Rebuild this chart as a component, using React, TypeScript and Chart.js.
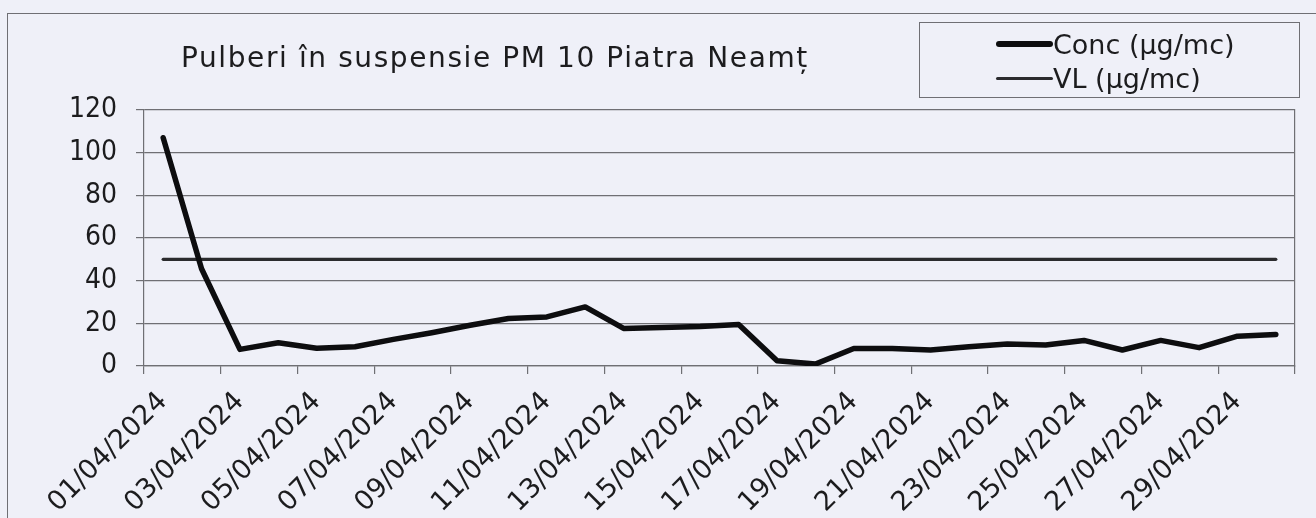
import React, { useEffect, useRef } from "react";
import { Chart, registerables } from "chart.js";

Chart.register(...registerables);

const titleText = "Pulberi în suspensie PM 10 Piatra Neamț";

const dayLabels = [
  "01/04/2024", "02/04/2024", "03/04/2024", "04/04/2024", "05/04/2024",
  "06/04/2024", "07/04/2024", "08/04/2024", "09/04/2024", "10/04/2024",
  "11/04/2024", "12/04/2024", "13/04/2024", "14/04/2024", "15/04/2024",
  "16/04/2024", "17/04/2024", "18/04/2024", "19/04/2024", "20/04/2024",
  "21/04/2024", "22/04/2024", "23/04/2024", "24/04/2024", "25/04/2024",
  "26/04/2024", "27/04/2024", "28/04/2024", "29/04/2024", "30/04/2024",
];

const concValues = [
  107, 45.6, 7.8, 10.9, 8.3, 9.0, 12.5, 15.6, 19.1, 22.3,
  23.0, 27.7, 17.6, 18.1, 18.5, 19.4, 2.5, 0.9, 8.2, 8.2,
  7.5, 9.0, 10.3, 9.8, 12.0, 7.5, 12.0, 8.6, 14.0, 14.8,
];

const vlValues = [
  50, 50, 50, 50, 50, 50, 50, 50, 50, 50,
  50, 50, 50, 50, 50, 50, 50, 50, 50, 50,
  50, 50, 50, 50, 50, 50, 50, 50, 50, 50,
];

const seriesNames = ["Conc (µg/mc)", "VL (µg/mc)"];
const yMin = 0;
const yMax = 120;
const yStep = 20;

const FONT_WIDE = "'DejaVu Sans', sans-serif";
const FONT_COND = "'DejaVu Sans Condensed', 'DejaVu Sans', sans-serif";
const GRID = "#6f6f74";
const TEXT = "#1c1c1e";
const BG = "#eff0f8";
const CONC_COLOR = "#0d0d0f";
const VL_COLOR = "#2b2b2e";

export default function App() {
  const canvasRef = useRef<HTMLCanvasElement | null>(null);

  useEffect(() => {
    document.body.style.margin = "0";
    const canvas = canvasRef.current;
    if (!canvas) return;
    const chart = new Chart(canvas, {
      type: "line",
      data: {
        labels: dayLabels,
        datasets: [
          {
            label: seriesNames[0],
            data: concValues,
            borderColor: CONC_COLOR,
            borderWidth: 5.5,
            pointRadius: 0,
            tension: 0,
            borderJoinStyle: "round",
            borderCapStyle: "round",
            order: 0,
          },
          {
            label: seriesNames[1],
            data: vlValues,
            borderColor: VL_COLOR,
            borderWidth: 3.2,
            pointRadius: 0,
            tension: 0,
            borderCapStyle: "round",
            order: 1,
          },
        ],
      },
      options: {
        animation: false,
        responsive: false,
        maintainAspectRatio: false,
        layout: { padding: { top: 110, right: 21, left: 0, bottom: 0 } },
        plugins: {
          legend: { display: false },
          title: { display: false },
          tooltip: { enabled: false },
        },
        scales: {
          x: {
            type: "category",
            offset: true,
            afterFit: (scale: any) => {
              scale.height = 152;
            },
            grid: {
              offset: true,
              drawOnChartArea: false,
              drawTicks: true,
              tickLength: 8,
              lineWidth: 1.2,
              color: GRID,
              tickColor: (ctx: any) =>
                ctx.index === undefined || ctx.index % 2 === 0 ? GRID : "rgba(0,0,0,0)",
            },
            border: { display: true, color: GRID, width: 1.2 },
            ticks: {
              autoSkip: false,
              maxRotation: 45,
              minRotation: 45,
              padding: 12,
              color: TEXT,
              font: { family: FONT_WIDE, size: 27 },
              callback: (_v: any, i: number) => (i % 2 === 0 ? dayLabels[i] : ""),
            },
          },
          y: {
            min: yMin,
            max: yMax,
            afterFit: (scale: any) => {
              scale.width = 144;
            },
            grid: {
              drawTicks: true,
              tickLength: 8,
              color: GRID,
              lineWidth: 1.2,
            },
            border: { display: true, color: GRID, width: 1.2 },
            ticks: {
              stepSize: yStep,
              padding: 19,
              color: TEXT,
              font: { family: FONT_COND, size: 28 },
            },
          },
          yRight: {
            display: true,
            position: "right",
            min: yMin,
            max: yMax,
            afterFit: (scale: any) => {
              scale.width = 0;
            },
            grid: { display: false, drawOnChartArea: false, drawTicks: false },
            border: { display: true, color: GRID, width: 1.2 },
            ticks: { display: false },
          },
        },
      },
    });
    return () => chart.destroy();
  }, []);

  return (
    <div
      style={{
        position: "relative",
        width: 1316,
        height: 518,
        background: BG,
        overflow: "hidden",
        fontFamily: FONT_WIDE,
        color: TEXT,
      }}
    >
      <div
        style={{
          position: "absolute",
          left: 7,
          top: 13,
          right: -2,
          bottom: -2,
          border: `1px solid ${GRID}`,
        }}
      />
      <canvas
        ref={canvasRef}
        width={1316}
        height={518}
        style={{ position: "absolute", left: 0, top: 0, width: 1316, height: 518 }}
      />
      <div
        style={{
          position: "absolute",
          left: 181,
          top: 40,
          fontSize: 28,
          lineHeight: "36px",
          letterSpacing: "1.6px",
          whiteSpace: "nowrap",
        }}
      >
        {titleText}
      </div>
      <div
        style={{
          position: "absolute",
          left: 919,
          top: 22,
          width: 381,
          height: 76,
          border: `1px solid ${GRID}`,
          boxSizing: "border-box",
        }}
      >
        {seriesNames.map((name, i) => (
          <div
            key={name}
            style={{
              position: "absolute",
              left: 76,
              top: i === 0 ? 4 : 38,
              height: 34,
              display: "flex",
              alignItems: "center",
              whiteSpace: "nowrap",
              fontSize: 27,
            }}
          >
            <div
              style={{
                width: 57,
                height: i === 0 ? 6 : 3,
                borderRadius: 3,
                background: i === 0 ? CONC_COLOR : VL_COLOR,
              }}
            />
            <span>{name}</span>
          </div>
        ))}
      </div>
    </div>
  );
}
